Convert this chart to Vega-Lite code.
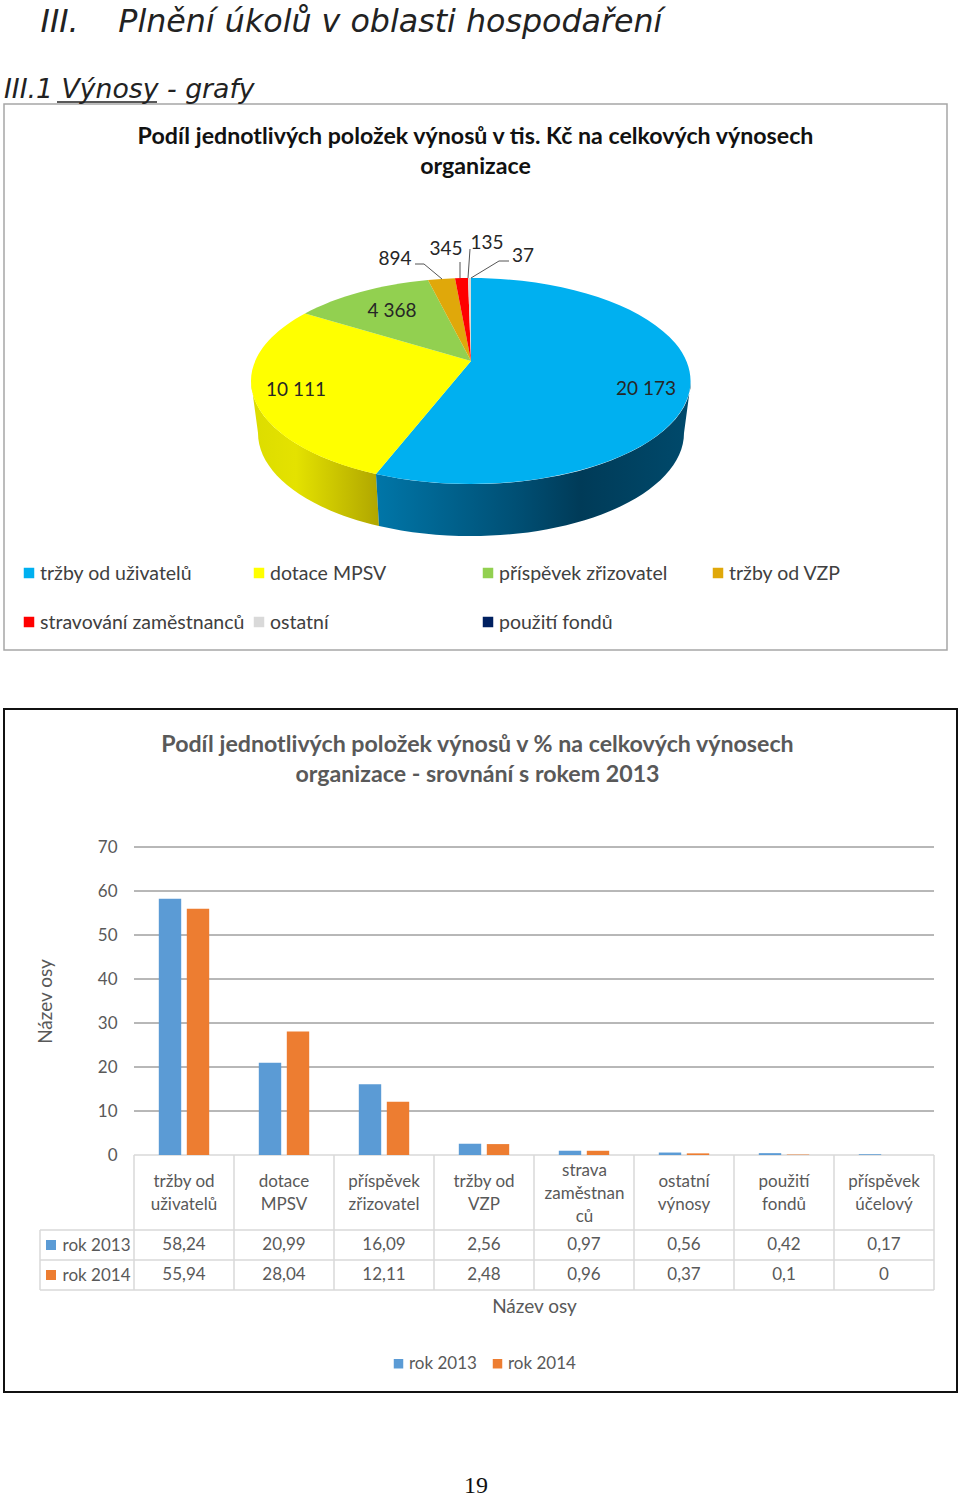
{
"$schema":"https://vega.github.io/schema/vega-lite/v6.json",
"padding":{"left":3,"top":6,"right":0,"bottom":0},
"background":"white",
"spacing":57,
"title":{"text":"\u200b\u00a0\u00a0\u00a0\u2009III.\u00a0\u00a0\u00a0\u2009\u200aPlnění úkolů v oblasti hospodaření","subtitle":"III.1 Výnosy - grafy","anchor":"start","frame":"group","font":"DejaVu Sans","fontSize":31.7,"fontStyle":"italic","fontWeight":"normal","color":"#222222","subtitleFont":"DejaVu Sans","subtitleFontSize":26.7,"subtitleFontStyle":"italic","subtitleColor":"#222222","subtitlePadding":38,"offset":-5},
"datasets":{
"pie":[
{"item":"tržby od uživatelů","value":20173,"label":"20 173"},
{"item":"dotace MPSV","value":10111,"label":"10 111"},
{"item":"příspěvek zřizovatel","value":4368,"label":"4 368"},
{"item":"tržby od VZP","value":894,"label":"894"},
{"item":"stravování zaměstnanců","value":345,"label":"345"},
{"item":"ostatní","value":135,"label":"135"},
{"item":"použití fondů","value":37,"label":"37"}],
"bars":[
{"cat":"tržby od uživatelů","year":"rok 2013","value":58.24,"label":"58,24"},
{"cat":"dotace MPSV","year":"rok 2013","value":20.99,"label":"20,99"},
{"cat":"příspěvek zřizovatel","year":"rok 2013","value":16.09,"label":"16,09"},
{"cat":"tržby od VZP","year":"rok 2013","value":2.56,"label":"2,56"},
{"cat":"strava zaměstnanců","year":"rok 2013","value":0.97,"label":"0,97"},
{"cat":"ostatní výnosy","year":"rok 2013","value":0.56,"label":"0,56"},
{"cat":"použití fondů","year":"rok 2013","value":0.42,"label":"0,42"},
{"cat":"příspěvek účelový","year":"rok 2013","value":0.17,"label":"0,17"},
{"cat":"tržby od uživatelů","year":"rok 2014","value":55.94,"label":"55,94"},
{"cat":"dotace MPSV","year":"rok 2014","value":28.04,"label":"28,04"},
{"cat":"příspěvek zřizovatel","year":"rok 2014","value":12.11,"label":"12,11"},
{"cat":"tržby od VZP","year":"rok 2014","value":2.48,"label":"2,48"},
{"cat":"strava zaměstnanců","year":"rok 2014","value":0.96,"label":"0,96"},
{"cat":"ostatní výnosy","year":"rok 2014","value":0.37,"label":"0,37"},
{"cat":"použití fondů","year":"rok 2014","value":0.1,"label":"0,1"},
{"cat":"příspěvek účelový","year":"rok 2014","value":0,"label":"0"}],
"grid":[{"tick":10},{"tick":20},{"tick":30},{"tick":40},{"tick":50},{"tick":60},{"tick":70}],
"rows":[{"line":0},{"line":1},{"line":2}],
"cols":[{"col":0},{"col":1},{"col":2},{"col":3},{"col":4},{"col":5},{"col":6},{"col":7},{"col":8}]
},
"vconcat":[
{
"width":943,"height":546,
"view":{"stroke":"#a6a6a6","strokeWidth":1.5},
"title":{"text":["Podíl jednotlivých položek výnosů v tis. Kč na celkových výnosech","organizace"],"anchor":"middle","frame":"group","offset":-80,"font":"Lato","fontSize":23.2,"fontWeight":"bold","color":"#111111","lineHeight":30},
"resolve":{"scale":{"x":"independent","y":"independent","shape":"independent","color":"independent"}},
"layer":[
{"data":{"name":"pie"},"transform":[{"filter":"datum.value===10111"}],
"mark":{"type":"point","filled":true,"opacity":1,"strokeWidth":0},
"encoding":{"size":{"value":4},
"shape":{"field":"item","type":"nominal","legend":null,"scale":{"domain":["dotace MPSV"],"range":["M-99.5,97A220,103 0 0 1 -224.5,4L-217.5,56A213,103 0 0 0 -96.5,149Z"]}},
"color":{"value":{"gradient":"linear","x1":0,"y1":0,"x2":1,"y2":0,"stops":[{"offset":0,"color":"#dcdc00"},{"offset":0.35,"color":"#e4e200"},{"offset":1,"color":"#b0a600"}]}}}},
{"data":{"name":"pie"},"transform":[{"filter":"datum.value===20173"}],
"mark":{"type":"point","filled":true,"opacity":1,"strokeWidth":0},
"encoding":{"size":{"value":4},
"shape":{"field":"item","type":"nominal","legend":null,"scale":{"domain":["tržby od uživatelů"],"range":["M215.5,4A220,103 0 0 1 -99.5,97L-96.5,149A213,103 0 0 0 208.5,56Z"]}},
"color":{"value":{"gradient":"linear","x1":0,"y1":0,"x2":1,"y2":0,"stops":[{"offset":0,"color":"#0076a8"},{"offset":0.45,"color":"#004f74"},{"offset":0.65,"color":"#003b58"},{"offset":1,"color":"#004a6c"}]}}}},
{"data":{"name":"pie"},"transform":[{"filter":"datum.value>37"}],
"mark":{"type":"point","filled":true,"opacity":1,"strokeWidth":0},
"encoding":{"size":{"value":4},
"shape":{"field":"item","type":"nominal","legend":null,"scale":{"domain":["tržby od uživatelů","dotace MPSV","příspěvek zřizovatel","tržby od VZP","stravování zaměstnanců","ostatní"],"range":[
"M-4.5,-16L-4.5,-99A220,103 0 1 1 -99.5,97Z",
"M-4.5,-16L-99.5,97A220,103 0 0 1 -170.5,-63.5Z",
"M-4.5,-16L-170.5,-63.5A220,103 0 0 1 -47.5,-97Z",
"M-4.5,-16L-47.5,-97A220,103 0 0 1 -20.5,-98.7Z",
"M-4.5,-16L-20.5,-98.7A220,103 0 0 1 -7.5,-99Z",
"M-4.5,-16L-7.5,-99A220,103 0 0 1 -4.5,-99Z"]}},
"color":{"field":"item","type":"nominal","legend":null,"scale":{"domain":["tržby od uživatelů","dotace MPSV","příspěvek zřizovatel","tržby od VZP","stravování zaměstnanců","ostatní","použití fondů"],"range":["#00b0f0","#ffff00","#92d050","#e0a80a","#ff0000","#d9d9d9","#002060"]}}}},
{"data":{"name":"pie"},"transform":[{"filter":"datum.value<=894"}],
"mark":{"type":"point","filled":false,"opacity":1,"strokeWidth":1,"stroke":"#555555"},
"encoding":{"size":{"value":4},
"shape":{"field":"item","type":"nominal","legend":null,"scale":{"domain":["tržby od VZP","stravování zaměstnanců","ostatní","použití fondů"],"range":[
"M-60.5,-113L-51.5,-113L-33.5,-98",
"M-15.5,-115L-15.5,-99",
"M-5.5,-128L-7.5,-99",
"M33.5,-116L23.5,-116L-4.5,-99"]}}}},
{"data":{"values":[{"word":"Výnosy"}]},
"mark":{"type":"point","filled":false,"opacity":1,"strokeWidth":1.5,"stroke":"#222222"},
"encoding":{"size":{"value":4},"shape":{"field":"word","type":"nominal","legend":null,"scale":{"domain":["Výnosy"],"range":["M-418.5,-275L-318.5,-275"]}}}},
{"data":{"name":"pie"},
"mark":{"type":"text","font":"Lato","fontSize":19,"color":"#262626"},
"encoding":{"text":{"field":"label"},
"x":{"field":"value","type":"quantitative","axis":null,"scale":{"domain":[37,135,345,894,4368,10111,20173],"range":[519,483,442,391,388,292,642]}},
"y":{"field":"value","type":"quantitative","axis":null,"scale":{"domain":[37,135,345,894,4368,10111,20173],"range":[152,139,145,155,207,286,285]}}}},
{"data":{"name":"pie"},
"mark":{"type":"point","shape":"square","filled":true,"opacity":1,"size":110},
"encoding":{
"x":{"field":"value","type":"quantitative","axis":null,"scale":{"domain":[37,135,345,894,4368,10111,20173],"range":[484,255,25,714,484,255,25]}},
"y":{"field":"value","type":"quantitative","axis":null,"scale":{"domain":[37,135,345,894,4368,10111,20173],"range":[518,518,518,469,469,469,469]}},
"color":{"field":"item","type":"nominal","legend":null,"scale":{"domain":["tržby od uživatelů","dotace MPSV","příspěvek zřizovatel","tržby od VZP","stravování zaměstnanců","ostatní","použití fondů"],"range":["#00b0f0","#ffff00","#92d050","#e0a80a","#ff0000","#d9d9d9","#002060"]}}}},
{"data":{"name":"pie"},
"mark":{"type":"text","font":"Lato","fontSize":19.5,"color":"#404040","align":"left"},
"encoding":{"text":{"field":"item"},
"x":{"field":"value","type":"quantitative","axis":null,"scale":{"domain":[37,135,345,894,4368,10111,20173],"range":[495,266,36,725,495,266,36]}},
"y":{"field":"value","type":"quantitative","axis":null,"scale":{"domain":[37,135,345,894,4368,10111,20173],"range":[519,519,519,470,470,470,470]}}}}
]
},
{
"width":953,"height":683,
"view":{"stroke":"#111111","strokeWidth":2},
"title":{"text":["Podíl jednotlivých položek výnosů v % na celkových výnosech","organizace - srovnání s rokem 2013"],"anchor":"middle","frame":"group","offset":-78,"dx":-3,"font":"Lato","fontSize":23.2,"fontWeight":"bold","color":"#595959","lineHeight":30},
"resolve":{"scale":{"x":"independent","y":"independent","color":"independent"},"axis":{"x":"independent","y":"independent"}},
"layer":[
{"data":{"name":"grid"},
"mark":{"type":"rule","color":"#707070","strokeWidth":1},
"encoding":{
"x":{"datum":0,"type":"quantitative","axis":null,"scale":{"domain":[0,8],"range":[130,930]}},
"x2":{"datum":8},
"y":{"field":"tick","type":"quantitative","scale":{"domain":[0,70],"range":[446,138],"nice":false},
"axis":{"orient":"left","offset":-116,"values":[0,10,20,30,40,50,60,70],"domain":false,"ticks":false,"grid":false,"labelPadding":3,"labelFont":"Lato","labelFontSize":17,"labelColor":"#595959","title":"Název osy","titleFont":"Lato","titleFontSize":19,"titleFontWeight":"normal","titleColor":"#595959","titleX":-65}}}},
{"data":{"name":"rows"},
"mark":{"type":"rule","color":"#d9d9d9","strokeWidth":1.5},
"encoding":{
"x":{"datum":-0.94,"type":"quantitative","axis":null,"scale":{"domain":[0,8],"range":[130,930]}},
"x2":{"datum":8},
"y":{"field":"line","type":"quantitative","axis":null,"scale":{"domain":[0,2],"range":[521,581]}}}},
{"data":{"name":"cols"},
"mark":{"type":"rule","color":"#d9d9d9","strokeWidth":1.5},
"encoding":{
"x":{"field":"col","type":"quantitative","axis":null,"scale":{"domain":[0,8],"range":[130,930]}},
"y":{"datum":0,"type":"quantitative","axis":null,"scale":{"domain":[0,1],"range":[446,581]}},
"y2":{"datum":1}}},
{"data":{"values":[{"edge":"top"}]},
"mark":{"type":"rule","color":"#d9d9d9","strokeWidth":1.5},
"encoding":{
"x":{"datum":0,"type":"quantitative","axis":null,"scale":{"domain":[0,8],"range":[130,930]}},
"x2":{"datum":8},
"y":{"datum":0,"type":"quantitative","axis":null,"scale":{"domain":[0,70],"range":[446,138]}}}},
{"data":{"values":[{"edge":"left"}]},
"mark":{"type":"rule","color":"#d9d9d9","strokeWidth":1.5},
"encoding":{
"x":{"datum":-0.94,"type":"quantitative","axis":null,"scale":{"domain":[0,8],"range":[130,930]}},
"y":{"datum":0,"type":"quantitative","axis":null,"scale":{"domain":[0,2],"range":[521,581]}},
"y2":{"datum":2}}},
{"data":{"name":"bars"},
"mark":{"type":"bar"},
"encoding":{
"x":{"field":"cat","type":"nominal","sort":null,"scale":{"domain":["tržby od uživatelů","dotace MPSV","příspěvek zřizovatel","tržby od VZP","strava zaměstnanců","ostatní výnosy","použití fondů","příspěvek účelový"],"range":[130,930],"paddingInner":0,"paddingOuter":0},
"axis":{"orient":"bottom","offset":-237,"values":["tržby od uživatelů","dotace MPSV","příspěvek zřizovatel","tržby od VZP","ostatní výnosy","použití fondů","příspěvek účelový"],"domain":false,"ticks":false,"grid":false,"labelAngle":0,"labelPadding":26,"labelBaseline":"middle","labelLineHeight":23,"labelFont":"Lato","labelFontSize":17,"labelColor":"#595959","labelLimit":0,
"labelExpr":"datum.label=='tržby od uživatelů'?['tržby od','uživatelů']:datum.label=='tržby od VZP'?['tržby od','VZP']:split(datum.label,' ')",
"title":"Název osy","titleFont":"Lato","titleFontSize":19,"titleFontWeight":"normal","titleColor":"#595959","titleY":151,"titleBaseline":"middle"}},
"xOffset":{"field":"year","type":"nominal","scale":{"paddingInner":0.2,"paddingOuter":0.886}},
"y":{"field":"value","type":"quantitative","axis":null,"scale":{"domain":[0,70],"range":[446,138],"nice":false}},
"color":{"field":"year","type":"nominal","scale":{"domain":["rok 2013","rok 2014"],"range":["#5b9bd5","#ed7d31"]},
"legend":{"orient":"none","legendX":386,"legendY":646,"direction":"horizontal","title":null,"symbolType":"square","symbolSize":90,"labelOffset":2,"labelFont":"Lato","labelFontSize":17,"labelColor":"#595959","columnPadding":12}}}},
{"data":{"name":"bars"},
"mark":{"type":"text","font":"Lato","fontSize":17,"color":"#595959"},
"encoding":{"text":{"field":"label"},
"x":{"field":"cat","type":"nominal","sort":null,"scale":{"domain":["tržby od uživatelů","dotace MPSV","příspěvek zřizovatel","tržby od VZP","strava zaměstnanců","ostatní výnosy","použití fondů","příspěvek účelový"],"range":[130,930],"paddingInner":0,"paddingOuter":0},
"axis":{"orient":"bottom","offset":-237,"values":["strava zaměstnanců"],"domain":false,"ticks":false,"grid":false,"labelAngle":0,"labelPadding":15,"labelBaseline":"middle","labelLineHeight":23,"labelFont":"Lato","labelFontSize":17,"labelColor":"#595959","labelLimit":0,"labelExpr":"['strava','zaměstnan','ců']","title":null}},
"y":{"field":"year","type":"nominal","scale":{"type":"point","domain":["rok 2013","rok 2014"],"range":[536,566],"padding":0},
"axis":{"orient":"left","offset":-126,"domain":false,"ticks":false,"grid":false,"title":null,"labelPadding":0,"labelFont":"Lato","labelFontSize":17,"labelColor":"#595959"}}}},
{"data":{"name":"bars"},"transform":[{"filter":"datum.cat==='dotace MPSV'"}],
"mark":{"type":"point","shape":"square","filled":true,"opacity":1,"size":100},
"encoding":{
"x":{"datum":-0.83,"type":"quantitative","axis":null,"scale":{"domain":[0,8],"range":[130,930]}},
"y":{"field":"year","type":"nominal","axis":null,"scale":{"type":"point","domain":["rok 2013","rok 2014"],"range":[536,566],"padding":0}},
"color":{"field":"year","type":"nominal","legend":null,"scale":{"domain":["rok 2013","rok 2014"],"range":["#5b9bd5","#ed7d31"]}}}}
]
},
{
"width":953,"height":46,
"data":{"values":[{"page":"19"}]},
"mark":{"type":"text","font":"Liberation Serif","fontSize":24,"color":"#111111","dx":-4.5,"dy":13},
"encoding":{"text":{"field":"page"}}
}
],
"config":{"view":{"stroke":null},"font":"Lato"}
}
